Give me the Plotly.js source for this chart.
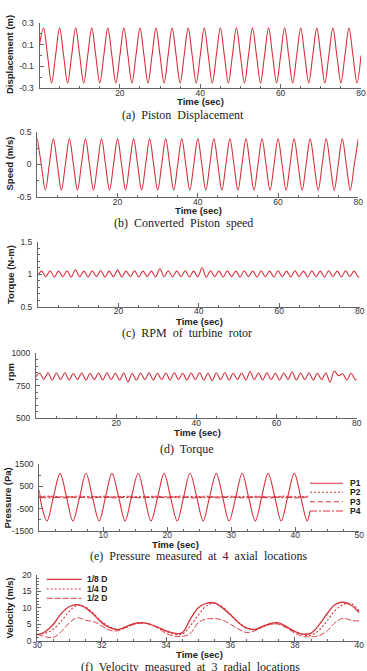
<!DOCTYPE html>
<html><head><meta charset="utf-8">
<script src="https://cdn.plot.ly/plotly-3.0.1.min.js"></script>
<style>html,body{margin:0;padding:0;background:#fff;} #chart{width:367px;height:671px;}</style>
</head><body><div id="chart"></div>
<script>
// ---------------- data ----------------
const t80 = [0,1,2,3,4,5,6,7,8,9,10,11,12,13,14,15,16,17,18,19,20,21,22,23,24,25,26,27,28,29,30,31,32,33,34,35,36,37,38,39,40,41,42,43,44,45,46,47,48,49,50,51,52,53,54,55,56,57,58,59,60,61,62,63,64,65,66,67,68,69,70,71,72,73,74,75,76,77,78,79,80];
const displacement = [0.1,
 0.25,0,-0.25,0, 0.25,0,-0.25,0, 0.25,0,-0.25,0, 0.25,0,-0.25,0, 0.25,0,-0.25,0,
 0.25,0,-0.25,0, 0.25,0,-0.25,0, 0.25,0,-0.25,0, 0.25,0,-0.25,0, 0.25,0,-0.25,0,
 0.25,0,-0.25,0, 0.25,0,-0.25,0, 0.25,0,-0.25,0, 0.25,0,-0.25,0, 0.25,0,-0.25,0,
 0.25,0,-0.25,0, 0.25,0,-0.25,0, 0.25,0,-0.25,0, 0.25,0,-0.25,0, 0.25,0,-0.25,0];
const speed = [0.4,
 0,-0.39,0,0.39, 0,-0.39,0,0.39, 0,-0.39,0,0.39, 0,-0.39,0,0.39, 0,-0.39,0,0.39,
 0,-0.39,0,0.39, 0,-0.39,0,0.39, 0,-0.39,0,0.39, 0,-0.39,0,0.39, 0,-0.39,0,0.39,
 0,-0.39,0,0.39, 0,-0.39,0,0.39, 0,-0.39,0,0.39, 0,-0.39,0,0.39, 0,-0.39,0,0.39,
 0,-0.39,0,0.39, 0,-0.39,0,0.39, 0,-0.39,0,0.39, 0,-0.39,0,0.39, 0,-0.39,0,0.39];

const tHalf = [0,0.9,1.95,3,4.05,5.1,6.15,7.2,8.25,9.3,10.35,11.4,12.45,13.5,14.55,15.6,16.65,17.7,18.75,19.8,20.85,21.9,22.95,24,25.05,26.1,27.15,28.2,29.25,30.3,31.35,32.4,33.45,34.5,35.55,36.6,37.65,38.7,39.75,40.8,41.85,42.9,43.95,45,46.05,47.1,48.15,49.2,50.25,51.3,52.35,53.4,54.45,55.5,56.55,57.6,58.65,59.7,60.75,61.8,62.85,63.9,64.95,66,67.05,68.1,69.15,70.2,71.25,72.3,73.35,74.4,75.45,76.5,77.55,78.6,79.65,80];
const torque = [0.985,
 1.05,0.965, 1.055,0.96, 1.05,0.965, 1.055,0.96, 1.07,0.965, 1.05,0.96, 1.055,0.965, 1.06,0.96,
 1.05,0.965, 1.065,0.96, 1.05,0.965, 1.055,0.96, 1.05,0.965, 1.05,0.96, 1.085,0.965, 1.055,0.96,
 1.05,0.965, 1.055,0.96, 1.05,0.965, 1.10,0.955, 1.055,0.965, 1.05,0.96, 1.055,0.965, 1.05,0.96,
 1.055,0.965, 1.05,0.96, 1.055,0.965, 1.05,0.96, 1.055,0.965, 1.05,0.96, 1.055,0.965, 1.05,0.96,
 1.055,0.965, 1.05,0.96, 1.055,0.965, 1.05,0.96, 1.055,0.965, 1.05,0.96,
 0.965];
const rpm = [820,
 848,800, 850,795, 848,798, 850,795, 845,798, 848,795, 845,798, 848,795,
 850,798, 846,795, 848,780, 845,795, 848,798, 850,795, 846,798, 848,795,
 850,798, 846,795, 848,798, 850,795, 846,790, 848,798, 850,795, 846,798,
 848,795, 858,798, 848,795, 850,798, 846,795, 848,798, 856,795, 848,798,
 850,795, 846,798, 848,778, 864,828, 842,795, 846,796,
 800];

const tP1 = [0,0.35,1.2,2.2,3.25,4.25,5.25,6.3,7.3,8.3,9.35,10.35,11.35,12.4,13.4,14.4,15.45,16.45,17.45,18.5,19.5,20.5,21.55,22.55,23.55,24.6,25.6,26.6,27.65,28.65,29.65,30.7,31.7,32.7,33.75,34.75,35.75,36.8,37.8,38.8,39.85,40.85,41.85,42.3];
const p1 = [330,-350,-1050,20,1080,20,-1050,20,1085,20,-1045,20,1080,20,-1050,20,1085,20,-1045,20,1080,20,-1050,20,1085,20,-1045,20,1080,20,-1050,20,1085,20,-1045,20,1080,20,-1050,20,1080,20,-1050,-600];
const tP = [0,2,4,6,8,10,12,14,16,18,20,22,24,26,28,30,32,34,36,38,40,42];
const p2 = [50,60,10,60,10,60,10,60,10,60,10,60,10,60,10,60,10,60,10,60,10,60];
const p3 = [20,30,-20,30,-20,30,-20,30,-20,30,-20,30,-20,30,-20,30,-20,30,-20,30,-20,30];
const p4 = [0,-10,40,-10,40,-10,40,-10,40,-10,40,-10,40,-10,40,-10,40,-10,40,-10,40,-10];
const pressureNames = ['P1','P2','P3','P4'];

const tV = [30,30.25,30.5,30.75,31,31.25,31.5,31.75,32,32.25,32.5,32.75,33,33.25,33.5,33.75,34,34.25,34.5,34.75,35,35.25,35.5,35.75,36,36.25,36.5,36.75,37,37.25,37.5,37.75,38,38.25,38.5,38.75,39,39.25,39.5,39.75,40];
const v18 = [1.7,2.8,5.0,8.3,10.4,11.0,10.0,8.0,5.5,4.0,3.4,4.3,5.2,5.5,5.0,4.1,3.0,2.3,2.4,6.5,10.0,11.4,11.5,10.0,7.9,5.5,3.8,3.4,4.4,5.3,5.4,4.2,2.8,2.0,2.3,4.8,8.2,11.0,11.7,10.8,8.5];
const v14 = [2.0,2.3,3.5,6.0,9.0,10.8,10.2,8.2,5.8,4.2,3.4,4.0,5.0,5.4,5.0,4.0,2.8,2.0,2.0,4.5,7.8,10.6,11.4,10.3,8.0,5.6,4.0,3.5,4.2,5.0,5.2,4.2,2.8,1.8,1.7,3.2,6.0,9.2,11.0,11.3,9.0];
const v12 = [2.0,1.2,1.0,2.8,5.5,7.0,6.2,5.8,4.5,3.2,3.0,4.0,5.0,5.4,5.0,3.8,2.2,1.4,1.3,2.2,5.5,6.6,6.7,6.3,5.0,3.5,2.5,3.0,4.2,5.0,5.0,3.8,2.3,1.3,1.2,1.5,3.0,5.5,6.8,6.2,6.0];
const velocityNames = ['1/8 D','1/4 D','1/2 D'];

const captions = ['(a)  Piston  Displacement','(b)  Converted  Piston  speed','(c)  RPM  of  turbine  rotor','(d)  Torque','(e)  Pressure  measured  at  4  axial  locations','(f)  Velocity  measured  at  3  radial  locations'];
const yTitles = ['Displacement (m)','Speed (m/s)','Torque (N-m)','rpm','Pressure (Pa)','Velocity (m/s)'];

// ---------------- layout helpers ----------------
const W = 367, H = 671;
const px = x => x / W, py = y => 1 - y / H;
const RED = '#d7303a';
const AX = '#666';
const tickFont = {family:'Liberation Sans, Arial, sans-serif', size:8.5, color:'#333'};

function xAxis(l, r, range, tickvals, minor, anchor){
  return {domain:[px(l), px(r)], range:range, anchor:anchor, showline:true, linecolor:AX, linewidth:1,
    ticks:'inside', ticklen:4, tickcolor:AX, tickvals:tickvals, showgrid:false, zeroline:false,
    tickfont:tickFont, ticklabelstandoff:-4,
    minor:{ticks:'inside', ticklen:2, tickcolor:AX, tickmode:'linear', tick0:range[0], dtick:minor, showgrid:false}};
}
function yAxis(top, bot, range, tickvals, ticktext, minor, anchor){
  return {domain:[py(bot), py(top)], range:range, anchor:anchor, showline:true, linecolor:AX, linewidth:1,
    ticks:'inside', ticklen:4, tickcolor:AX, tickvals:tickvals, ticktext:ticktext, showgrid:false, zeroline:false,
    tickfont:tickFont, ticklabelstandoff:3,
    minor:{ticks:'inside', ticklen:2, tickcolor:AX, tickmode:'linear', tick0:range[0], dtick:minor, showgrid:false}};
}
const line = (extra) => Object.assign({color:RED, width:1.1, shape:'spline', smoothing:1}, extra||{});

const traces = [
  {x:t80, y:displacement, xaxis:'x', yaxis:'y', mode:'lines', line:line(), name:'Displacement'},
  {x:t80, y:speed, xaxis:'x2', yaxis:'y2', mode:'lines', line:line(), name:'Speed'},
  {x:tHalf, y:torque, xaxis:'x3', yaxis:'y3', mode:'lines', line:line(), name:'Torque'},
  {x:tHalf, y:rpm, xaxis:'x4', yaxis:'y4', mode:'lines', line:line(), name:'rpm'},
  {x:tP1, y:p1, xaxis:'x5', yaxis:'y5', mode:'lines', line:line(), name:pressureNames[0]},
  {x:tP, y:p2, xaxis:'x5', yaxis:'y5', mode:'lines', line:line({width:1, dash:'2px,2px'}), name:pressureNames[1]},
  {x:tP, y:p3, xaxis:'x5', yaxis:'y5', mode:'lines', line:line({width:1, dash:'5px,3px'}), name:pressureNames[2]},
  {x:tP, y:p4, xaxis:'x5', yaxis:'y5', mode:'lines', line:line({width:1, dash:'7px,2px,2px,2px'}), name:pressureNames[3]},
  {x:tV, y:v18, xaxis:'x6', yaxis:'y6', mode:'lines', line:line({width:1.3}), name:velocityNames[0]},
  {x:tV, y:v14, xaxis:'x6', yaxis:'y6', mode:'lines', line:line({dash:'2px,2px'}), name:velocityNames[1]},
  {x:tV, y:v12, xaxis:'x6', yaxis:'y6', mode:'lines', line:line({width:0.9, dash:'6px,2px'}), name:velocityNames[2]}
];

const capFont = {family:'Liberation Serif, Times New Roman, serif', size:12, color:'#222'};
const titleFont = {family:'Liberation Sans, Arial, sans-serif', size:9.5, color:'#222'};
const legFont = {family:'Liberation Sans, Arial, sans-serif', size:8.5, color:'#222'};

const annotations = [];
const capPos = [[183,115.5],[183,222.5],[187,332.5],[187,448.5],[199,555.5],[190,667]];
captions.forEach((c,i)=>annotations.push({text:c, x:px(capPos[i][0]), y:py(capPos[i][1]), xref:'paper', yref:'paper', showarrow:false, font:capFont, xanchor:'center', yanchor:'middle', borderpad:0}));
const ytPos = [[10,55],[9.5,164],[10,275],[10,372],[7.5,498],[8.5,608]];
yTitles.forEach((c,i)=>annotations.push({text:'<b>'+c+'</b>', x:px(ytPos[i][0]), y:py(ytPos[i][1]), xref:'paper', yref:'paper', showarrow:false, font:titleFont, textangle:-90, xanchor:'center', yanchor:'middle', borderpad:0}));
const xtPos = [[200,101],[198,210.2],[199,321],[197,432.5],[175,544],[199,654.5]];
xtPos.forEach(p=>annotations.push({text:'<b>Time (sec)</b>', x:px(p[0]), y:py(p[1]), xref:'paper', yref:'paper', showarrow:false, font:titleFont, xanchor:'center', yanchor:'middle', borderpad:0}));

// legends
const shapes = [];
const pDash = ['solid','2px,2px','5px,3px','7px,2px,2px,2px'];
const pLegY = [483.3,492.3,501.7,511];
pressureNames.forEach((n,i)=>{
  shapes.push({type:'line', xref:'paper', yref:'paper', x0:px(310), x1:px(343), y0:py(pLegY[i]), y1:py(pLegY[i]), line:{color:RED, width:1.1, dash:pDash[i]}});
  annotations.push({text:'<b>'+n+'</b>', x:px(349), y:py(pLegY[i]), xref:'paper', yref:'paper', showarrow:false, font:legFont, xanchor:'left', yanchor:'middle', borderpad:0});
});
const vDash = ['solid','2px,2px','6px,2px'];
const vW = [1.3,1.1,0.9];
const vLegY = [579.3,589,598.3];
velocityNames.forEach((n,i)=>{
  shapes.push({type:'line', xref:'paper', yref:'paper', x0:px(46.7), x1:px(81.7), y0:py(vLegY[i]), y1:py(vLegY[i]), line:{color:RED, width:vW[i], dash:vDash[i]}});
  annotations.push({text:'<b>'+n+'</b>', x:px(86), y:py(vLegY[i]), xref:'paper', yref:'paper', showarrow:false, font:legFont, xanchor:'left', yanchor:'middle', borderpad:0});
});

const layout = {
  width:W, height:H, margin:{l:0,r:0,t:0,b:0}, paper_bgcolor:'#fff', plot_bgcolor:'#fff', showlegend:false,
  font:{family:'Liberation Sans, Arial, sans-serif'},
  xaxis:  xAxis(39.5, 361, [0,80], [20,40,60,80], 5, 'y'),
  yaxis:  yAxis(22.7, 88.3, [-0.3,0.3], [-0.3,-0.1,0.1,0.3], ['-0.3','-0.1','0.1','0.3'], 0.1, 'x'),
  xaxis2: xAxis(37.3, 358.3, [0,80], [20,40,60,80], 5, 'y2'),
  yaxis2: yAxis(131.7, 197.3, [-0.5,0.5], [-0.5,0,0.5], ['-0.5','0','0.5'], 0.25, 'x2'),
  xaxis3: xAxis(38, 359.7, [0,80], [20,40,60,80], 5, 'y3'),
  yaxis3: yAxis(241.7, 307, [0.5,1.5], [0.5,1,1.5], ['0.5','1','1.5'], 0.1, 'x3'),
  xaxis4: xAxis(36, 356.7, [0,80], [20,40,60,80], 5, 'y4'),
  yaxis4: yAxis(353.3, 418.3, [500,1000], [500,750,1000], ['500','750','1000'], 50, 'x4'),
  xaxis5: xAxis(39.3, 359.3, [0,50], [10,20,30,40,50], 2.5, 'y5'),
  yaxis5: yAxis(464, 531, [-1500,1500], [-1500,-500,500,1500], ['-1500','-500','500','1500'], 500, 'x5'),
  xaxis6: xAxis(37.3, 359.3, [30,40], [30,32,34,36,38,40], 0.5, 'y6'),
  yaxis6: yAxis(575, 640.7, [0,20], [0,5,10,15,20], ['0','5','10','15','20'], 1, 'x6'),
  annotations:annotations, shapes:shapes
};
Plotly.newPlot('chart', traces, layout, {staticPlot:true, displayModeBar:false});
</script></body></html>
